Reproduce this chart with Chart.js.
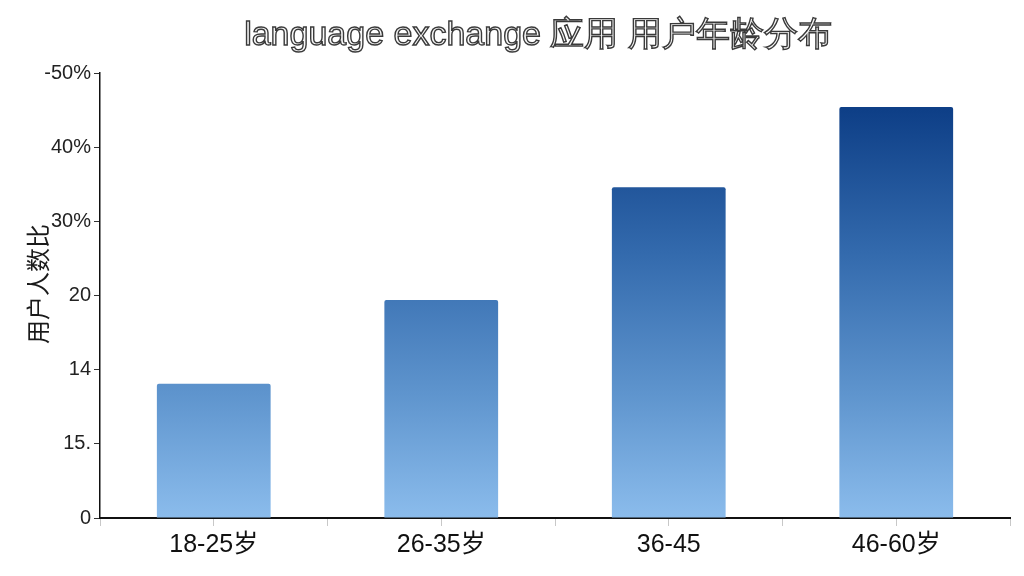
<!DOCTYPE html>
<html><head><meta charset="utf-8">
<script src="https://cdn.jsdelivr.net/npm/chart.js@4/dist/chart.umd.min.js"></script>
<style>html,body{margin:0;padding:0;background:#fff;}#wrap{width:1024px;height:576px;}</style>
</head><body><div id="wrap"><canvas id="c" width="1024" height="576"></canvas></div>
<script>
const chartTitle = "language exchange 应用 用户年龄分布";
const yAxisTitle = "用户人数比";
const categories = ["18-25岁", "26-35岁", "36-45", "46-60岁"];
const shares = [18.1, 29.4, 44.6, 55.4];
const yTickLabels = ["0", "15.", "14", "20", "30%", "40%", "-50%"];

const textPlugin = {
  id: 'textPlugin',
  afterDraw(chart) {
    const ctx = chart.ctx;
    ctx.save();
    ctx.font = '34px "Liberation Sans", Arial, sans-serif';
    ctx.textAlign = 'center';
    ctx.textBaseline = 'middle';
    ctx.lineWidth = 1.4;
    ctx.strokeStyle = '#3a3a3a';
    ctx.fillStyle = '#f7f7f7';
    ctx.fillText(chartTitle, 538, 36);
    ctx.strokeText(chartTitle, 538, 36);
    ctx.translate(38, 284);
    ctx.rotate(-Math.PI / 2);
    ctx.font = '24px "Noto Sans CJK SC", sans-serif';
    ctx.fillStyle = '#1a1a1a';
    ctx.fillText(yAxisTitle, 0, 0);
    ctx.restore();
  }
};

function barGradient(context) {
  const chart = context.chart;
  if (!chart.chartArea) return '#4a80c0';
  const y = chart.scales.y;
  const g = chart.ctx.createLinearGradient(0, y.getPixelForValue(0), 0, y.getPixelForValue(55));
  g.addColorStop(0, '#8bbcec');
  g.addColorStop(0.3, '#5f95ce');
  g.addColorStop(0.65, '#336aad');
  g.addColorStop(1, '#0e3f87');
  return g;
}

new Chart(document.getElementById('c'), {
  type: 'bar',
  data: {
    labels: categories,
    datasets: [{
      data: shares,
      backgroundColor: barGradient,
      borderWidth: 0,
      borderRadius: 2,
      borderSkipped: 'bottom',
      barPercentage: 0.5,
      categoryPercentage: 1.0
    }]
  },
  plugins: [textPlugin],
  options: {
    responsive: false,
    animation: false,
    devicePixelRatio: 1,
    layout: { padding: { top: 73, right: 14, left: 0, bottom: 0 } },
    plugins: { legend: { display: false }, title: { display: false }, tooltip: { enabled: false } },
    scales: {
      x2: {
        type: 'category',
        position: 'bottom',
        weight: 0,
        labels: categories,
        afterFit(s) { s.height = 0; },
        grid: { display: true, offset: true, drawOnChartArea: false, drawTicks: true, tickLength: 8, color: '#c8c8c8' },
        border: { display: false },
        ticks: { display: false }
      },
      x: {
        weight: 1,
        afterFit(s) { s.height = 58; },
        grid: { display: true, offset: false, drawOnChartArea: false, drawTicks: true, tickLength: 8, color: '#c8c8c8' },
        border: { display: true, color: '#111', width: 2 },
        ticks: { color: '#111', font: { size: 25, family: '"Liberation Sans Narrow", "Liberation Sans", "Noto Sans CJK SC", sans-serif' }, padding: 4 }
      },
      y: {
        min: 0, max: 60,
        afterFit(s) { s.width = 100; },
        grid: { display: true, drawOnChartArea: false, drawTicks: true, tickLength: 6, color: '#333' },
        border: { display: true, color: '#111', width: 1.5 },
        ticks: {
          stepSize: 10,
          color: '#222',
          padding: 3,
          font: { size: 20, family: '"Liberation Sans", Arial, sans-serif' },
          callback: (v, i) => yTickLabels[i]
        }
      }
    }
  }
});
</script></body></html>
